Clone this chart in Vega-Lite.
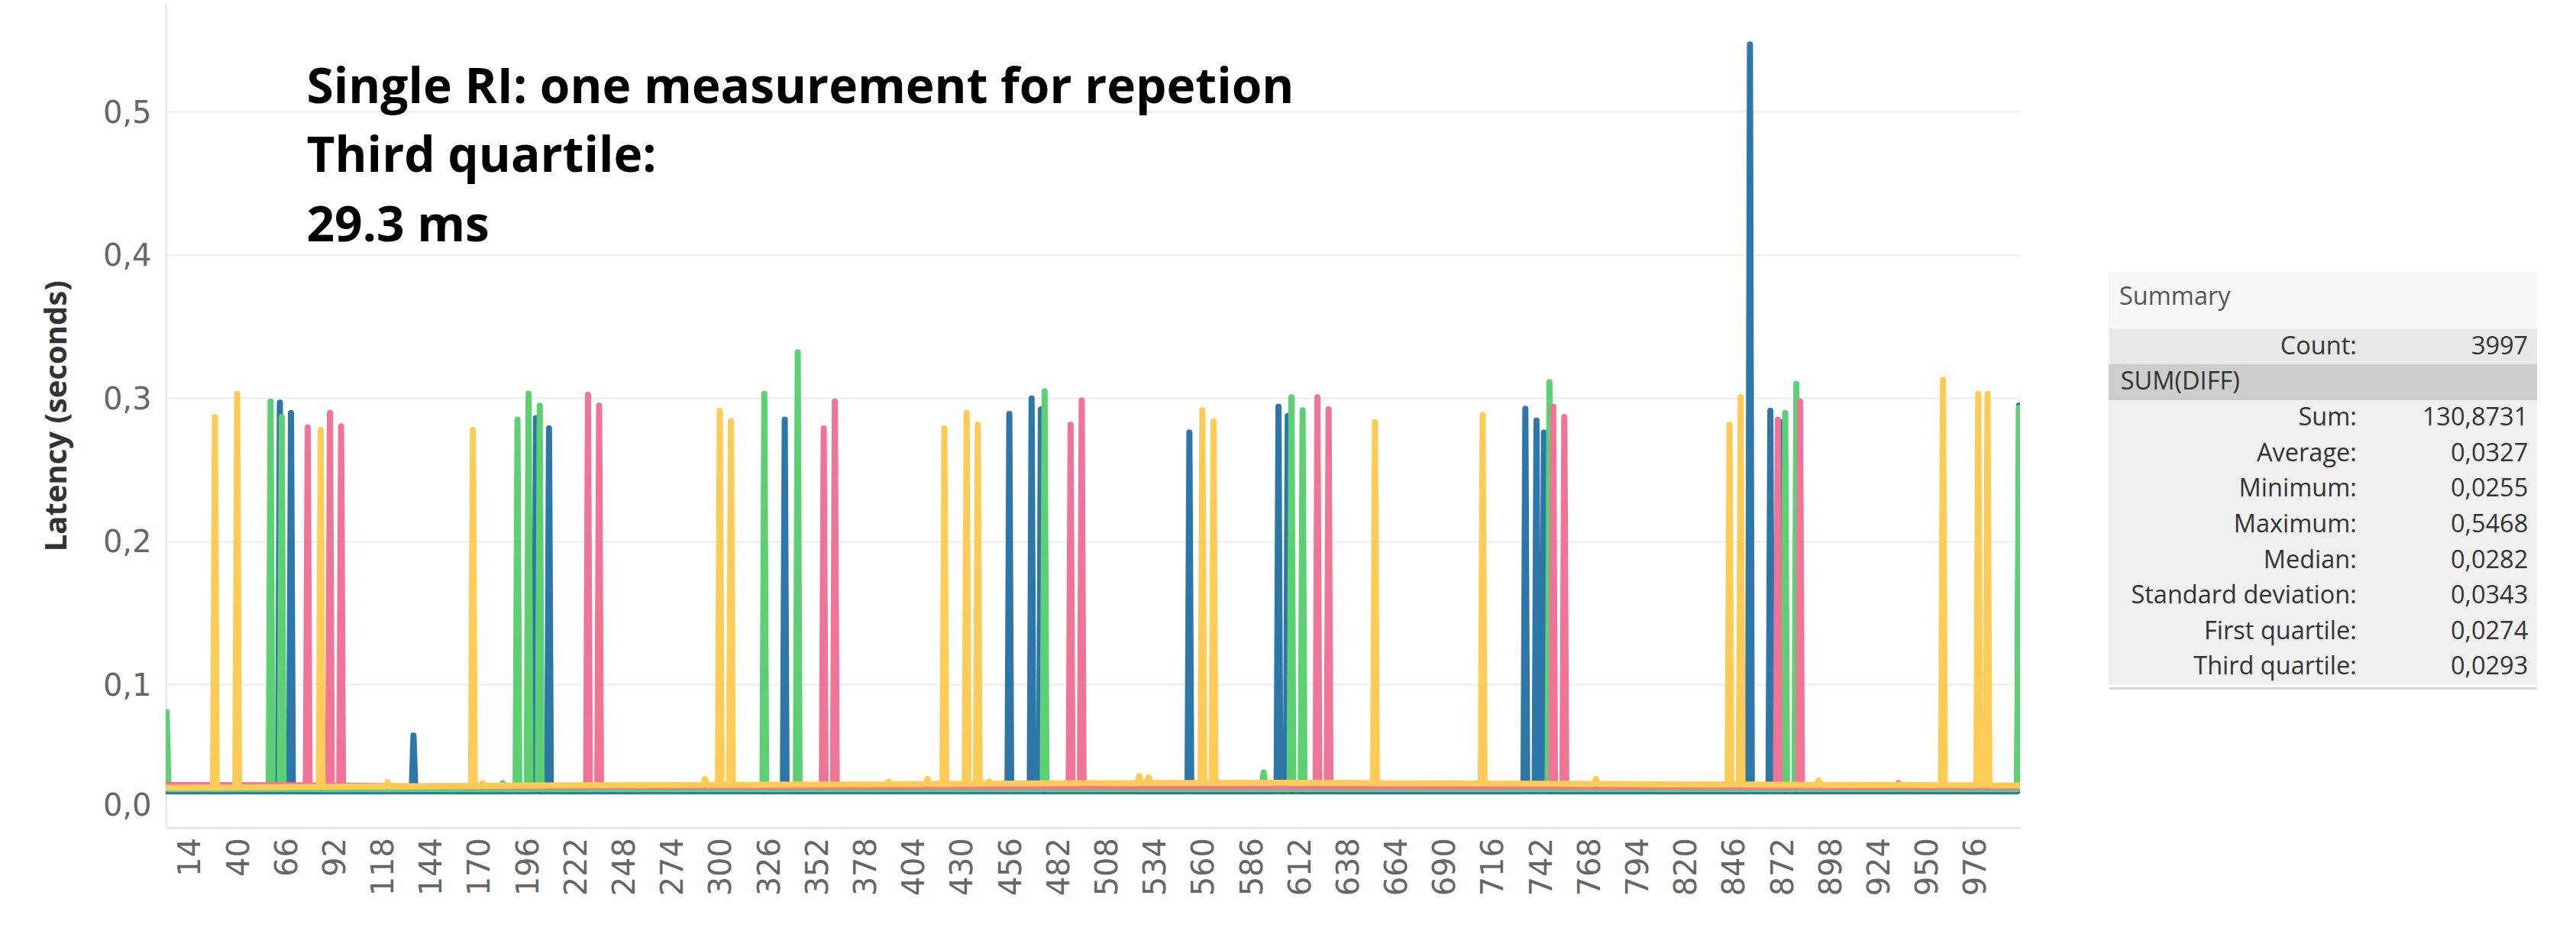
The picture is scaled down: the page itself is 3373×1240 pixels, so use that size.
{
  "$schema": "https://vega.github.io/schema/vega-lite/v6.json",
  "padding": {"left": 54, "top": 5, "right": 0, "bottom": 0},
  "background": "white",
  "config": {"view": {"stroke": null}},
  "spacing": 114,
  "hconcat": [
    {
      "width": 2428,
      "height": 1078.5,
      "layer": [
        {
          "data": {"values": [
            {"s":"A","k":1,"v":0.0252},
            {"s":"A","k":61,"v":0.0252},{"s":"A","k":62,"v":0.2967},{"s":"A","k":63,"v":0.0252},
            {"s":"A","k":67,"v":0.0252},{"s":"A","k":68,"v":0.2895},{"s":"A","k":69,"v":0.0252},
            {"s":"A","k":133,"v":0.0252},{"s":"A","k":134,"v":0.0642},{"s":"A","k":135,"v":0.0252},
            {"s":"A","k":199,"v":0.0252},{"s":"A","k":200,"v":0.2859},{"s":"A","k":201,"v":0.0252},
            {"s":"A","k":206,"v":0.0252},{"s":"A","k":207,"v":0.2787},{"s":"A","k":208,"v":0.0252},
            {"s":"A","k":333,"v":0.0252},{"s":"A","k":334,"v":0.2848},{"s":"A","k":335,"v":0.0252},
            {"s":"A","k":454,"v":0.0252},{"s":"A","k":455,"v":0.2888},{"s":"A","k":456,"v":0.0252},
            {"s":"A","k":466,"v":0.0252},{"s":"A","k":467,"v":0.2996},{"s":"A","k":468,"v":0.0252},
            {"s":"A","k":471,"v":0.0252},{"s":"A","k":472,"v":0.2920},{"s":"A","k":473,"v":0.0252},
            {"s":"A","k":551,"v":0.0252},{"s":"A","k":552,"v":0.2758},{"s":"A","k":553,"v":0.0252},
            {"s":"A","k":599,"v":0.0252},{"s":"A","k":600,"v":0.2939},{"s":"A","k":601,"v":0.0252},
            {"s":"A","k":604,"v":0.0252},{"s":"A","k":605,"v":0.2873},{"s":"A","k":606,"v":0.0252},
            {"s":"A","k":732,"v":0.0252},{"s":"A","k":733,"v":0.2924},{"s":"A","k":734,"v":0.0252},
            {"s":"A","k":738,"v":0.0252},{"s":"A","k":739,"v":0.2841},{"s":"A","k":740,"v":0.0252},
            {"s":"A","k":742,"v":0.0252},{"s":"A","k":743,"v":0.2758},{"s":"A","k":744,"v":0.0252},
            {"s":"A","k":853,"v":0.0252},{"s":"A","k":854,"v":0.5468},{"s":"A","k":855,"v":0.0252},
            {"s":"A","k":864,"v":0.0252},{"s":"A","k":865,"v":0.2910},{"s":"A","k":866,"v":0.0252},
            {"s":"A","k":870,"v":0.0252},{"s":"A","k":871,"v":0.2830},{"s":"A","k":872,"v":0.0252},
            {"s":"A","k":998,"v":0.0252},{"s":"A","k":999,"v":0.2946},

            {"s":"B","k":1,"v":0.0805},{"s":"B","k":2,"v":0.0268},
            {"s":"B","k":56,"v":0.0268},{"s":"B","k":57,"v":0.2975},{"s":"B","k":58,"v":0.0268},
            {"s":"B","k":62,"v":0.0268},{"s":"B","k":63,"v":0.2866},{"s":"B","k":64,"v":0.0268},
            {"s":"B","k":181,"v":0.0268},{"s":"B","k":182,"v":0.0310},{"s":"B","k":183,"v":0.0268},
            {"s":"B","k":189,"v":0.0268},{"s":"B","k":190,"v":0.2848},{"s":"B","k":191,"v":0.0268},
            {"s":"B","k":195,"v":0.0268},{"s":"B","k":196,"v":0.3029},{"s":"B","k":197,"v":0.0268},
            {"s":"B","k":201,"v":0.0268},{"s":"B","k":202,"v":0.2946},{"s":"B","k":203,"v":0.0268},
            {"s":"B","k":322,"v":0.0268},{"s":"B","k":323,"v":0.3029},{"s":"B","k":324,"v":0.0268},
            {"s":"B","k":340,"v":0.0268},{"s":"B","k":341,"v":0.3318},{"s":"B","k":342,"v":0.0268},
            {"s":"B","k":473,"v":0.0268},{"s":"B","k":474,"v":0.3047},{"s":"B","k":475,"v":0.0268},
            {"s":"B","k":591,"v":0.0268},{"s":"B","k":592,"v":0.0385},{"s":"B","k":593,"v":0.0268},
            {"s":"B","k":606,"v":0.0268},{"s":"B","k":607,"v":0.3004},{"s":"B","k":608,"v":0.0268},
            {"s":"B","k":612,"v":0.0268},{"s":"B","k":613,"v":0.2913},{"s":"B","k":614,"v":0.0268},
            {"s":"B","k":745,"v":0.0268},{"s":"B","k":746,"v":0.3109},{"s":"B","k":747,"v":0.0268},
            {"s":"B","k":872,"v":0.0268},{"s":"B","k":873,"v":0.2895},{"s":"B","k":874,"v":0.0268},
            {"s":"B","k":878,"v":0.0268},{"s":"B","k":879,"v":0.3098},{"s":"B","k":880,"v":0.0268},
            {"s":"B","k":998,"v":0.0268},{"s":"B","k":999,"v":0.2930},

            {"s":"C","k":1,"v":0.0297},{"s":"C","k":70,"v":0.0295},
            {"s":"C","k":76,"v":0.0294},{"s":"C","k":77,"v":0.2794},{"s":"C","k":78,"v":0.0294},
            {"s":"C","k":88,"v":0.0293},{"s":"C","k":89,"v":0.2895},{"s":"C","k":90,"v":0.0293},
            {"s":"C","k":94,"v":0.0292},{"s":"C","k":95,"v":0.2801},{"s":"C","k":96,"v":0.0292},
            {"s":"C","k":130,"v":0.0287},
            {"s":"C","k":227,"v":0.0286},{"s":"C","k":228,"v":0.3022},{"s":"C","k":229,"v":0.0286},
            {"s":"C","k":233,"v":0.0286},{"s":"C","k":234,"v":0.2946},{"s":"C","k":235,"v":0.0286},
            {"s":"C","k":354,"v":0.0285},{"s":"C","k":355,"v":0.2787},{"s":"C","k":356,"v":0.0285},
            {"s":"C","k":360,"v":0.0285},{"s":"C","k":361,"v":0.2975},{"s":"C","k":362,"v":0.0285},
            {"s":"C","k":487,"v":0.0285},{"s":"C","k":488,"v":0.2812},{"s":"C","k":489,"v":0.0285},
            {"s":"C","k":493,"v":0.0285},{"s":"C","k":494,"v":0.2982},{"s":"C","k":495,"v":0.0285},
            {"s":"C","k":620,"v":0.0284},{"s":"C","k":621,"v":0.3004},{"s":"C","k":622,"v":0.0284},
            {"s":"C","k":626,"v":0.0284},{"s":"C","k":627,"v":0.2920},{"s":"C","k":628,"v":0.0284},
            {"s":"C","k":747,"v":0.0284},{"s":"C","k":748,"v":0.2939},{"s":"C","k":749,"v":0.0284},
            {"s":"C","k":753,"v":0.0284},{"s":"C","k":754,"v":0.2866},{"s":"C","k":755,"v":0.0284},
            {"s":"C","k":868,"v":0.0283},{"s":"C","k":869,"v":0.2848},{"s":"C","k":870,"v":0.0283},
            {"s":"C","k":880,"v":0.0283},{"s":"C","k":881,"v":0.2975},{"s":"C","k":882,"v":0.0283},
            {"s":"C","k":933,"v":0.0283},{"s":"C","k":934,"v":0.0310},{"s":"C","k":935,"v":0.0283},
            {"s":"C","k":999,"v":0.0283},

            {"s":"D","k":1,"v":0.0277},
            {"s":"D","k":26,"v":0.0279},{"s":"D","k":27,"v":0.2866},{"s":"D","k":28,"v":0.0279},
            {"s":"D","k":38,"v":0.0280},{"s":"D","k":39,"v":0.3029},{"s":"D","k":40,"v":0.0280},
            {"s":"D","k":83,"v":0.0284},{"s":"D","k":84,"v":0.2776},{"s":"D","k":85,"v":0.0284},
            {"s":"D","k":100,"v":0.0285},
            {"s":"D","k":119,"v":0.0287},{"s":"D","k":120,"v":0.0316},{"s":"D","k":121,"v":0.0287},
            {"s":"D","k":165,"v":0.0290},{"s":"D","k":166,"v":0.2776},{"s":"D","k":167,"v":0.0290},
            {"s":"D","k":170,"v":0.0290},{"s":"D","k":171,"v":0.0310},{"s":"D","k":172,"v":0.0291},
            {"s":"D","k":200,"v":0.0293},
            {"s":"D","k":290,"v":0.0298},{"s":"D","k":291,"v":0.0340},{"s":"D","k":292,"v":0.0298},
            {"s":"D","k":298,"v":0.0298},{"s":"D","k":299,"v":0.2910},{"s":"D","k":300,"v":0.0298},
            {"s":"D","k":304,"v":0.0298},{"s":"D","k":305,"v":0.2837},{"s":"D","k":306,"v":0.0298},
            {"s":"D","k":389,"v":0.0302},{"s":"D","k":390,"v":0.0320},{"s":"D","k":391,"v":0.0302},
            {"s":"D","k":400,"v":0.0303},
            {"s":"D","k":410,"v":0.0304},{"s":"D","k":411,"v":0.0340},{"s":"D","k":412,"v":0.0304},
            {"s":"D","k":419,"v":0.0304},{"s":"D","k":420,"v":0.2787},{"s":"D","k":421,"v":0.0304},
            {"s":"D","k":431,"v":0.0305},{"s":"D","k":432,"v":0.2895},{"s":"D","k":433,"v":0.0305},
            {"s":"D","k":437,"v":0.0305},{"s":"D","k":438,"v":0.2812},{"s":"D","k":439,"v":0.0305},
            {"s":"D","k":443,"v":0.0306},{"s":"D","k":444,"v":0.0320},{"s":"D","k":445,"v":0.0306},
            {"s":"D","k":500,"v":0.0310},
            {"s":"D","k":524,"v":0.0310},{"s":"D","k":525,"v":0.0360},{"s":"D","k":526,"v":0.0310},
            {"s":"D","k":529,"v":0.0311},{"s":"D","k":530,"v":0.0350},{"s":"D","k":531,"v":0.0311},
            {"s":"D","k":558,"v":0.0311},{"s":"D","k":559,"v":0.2913},{"s":"D","k":560,"v":0.0311},
            {"s":"D","k":564,"v":0.0311},{"s":"D","k":565,"v":0.2837},{"s":"D","k":566,"v":0.0311},
            {"s":"D","k":600,"v":0.0312},
            {"s":"D","k":651,"v":0.0310},{"s":"D","k":652,"v":0.2830},{"s":"D","k":653,"v":0.0310},
            {"s":"D","k":700,"v":0.0307},
            {"s":"D","k":709,"v":0.0307},{"s":"D","k":710,"v":0.2880},{"s":"D","k":711,"v":0.0307},
            {"s":"D","k":770,"v":0.0304},{"s":"D","k":771,"v":0.0340},{"s":"D","k":772,"v":0.0304},
            {"s":"D","k":800,"v":0.0302},
            {"s":"D","k":842,"v":0.0300},{"s":"D","k":843,"v":0.2812},{"s":"D","k":844,"v":0.0300},
            {"s":"D","k":848,"v":0.0300},{"s":"D","k":849,"v":0.3004},{"s":"D","k":850,"v":0.0300},
            {"s":"D","k":890,"v":0.0298},{"s":"D","k":891,"v":0.0330},{"s":"D","k":892,"v":0.0298},
            {"s":"D","k":900,"v":0.0298},
            {"s":"D","k":957,"v":0.0296},{"s":"D","k":958,"v":0.3127},{"s":"D","k":959,"v":0.0296},
            {"s":"D","k":976,"v":0.0295},{"s":"D","k":977,"v":0.3029},{"s":"D","k":978,"v":0.0295},
            {"s":"D","k":981,"v":0.0295},{"s":"D","k":982,"v":0.3029},{"s":"D","k":983,"v":0.0295},
            {"s":"D","k":999,"v":0.0293}
          ]},
          "mark": {"type": "line", "strokeWidth": 8, "strokeCap": "round", "strokeJoin": "round", "clip": true},
          "encoding": {
            "x": {
              "field": "k", "type": "quantitative",
              "scale": {"domain": [0.5, 999.5], "nice": false, "zero": false},
              "axis": {
                "title": null,
                "values": [14,40,66,92,118,144,170,196,222,248,274,300,326,352,378,404,430,456,482,508,534,560,586,612,638,664,690,716,742,768,794,820,846,872,898,924,950,976],
                "labelAngle": -90,
                "labelFont": "DejaVu Sans",
                "labelFontSize": 40,
                "labelColor": "#666666",
                "labelPadding": 13,
                "labelOverlap": false,
                "labelFlush": false,
                "ticks": false,
                "grid": false,
                "domain": true,
                "domainColor": "#e4e4e4",
                "domainWidth": 2
              }
            },
            "y": {
              "field": "v", "type": "quantitative",
              "scale": {"domain": [0, 0.5752], "nice": false, "zero": false},
              "axis": {
                "title": "Latency (seconds)",
                "titleFont": "Open Sans",
                "titleFontWeight": "bold",
                "titleFontSize": 40,
                "titleColor": "#333333",
                "titlePadding": 40,
                "values": [0, 0.1, 0.2, 0.3, 0.4, 0.5],
                "labelExpr": "replace(format(datum.value, '.1f'), '.', ',')",
                "labelFont": "DejaVu Sans",
                "labelFontSize": 40,
                "labelColor": "#666666",
                "labelPadding": 19,
                "labelFlush": false,
                "labelOffset": {"condition": {"test": "datum.value === 0", "value": -28}, "value": 2},
                "ticks": false,
                "grid": true,
                "gridColor": "#ececec",
                "gridWidth": 2,
                "domain": true,
                "domainColor": "#e4e4e4",
                "domainWidth": 2
              }
            },
            "color": {
              "field": "s", "type": "nominal", "legend": null,
              "scale": {"domain": ["A","B","C","D"], "range": ["#2c77a8","#5dd073","#ef7498","#fecb57"]}
            }
          }
        },
        {
          "data": {"values": [{"t": ["Single RI: one measurement for repetion", "Third quartile:", "29.3 ms"]}]},
          "mark": {"type": "text", "font": "Open Sans", "fontWeight": "bold", "fontSize": 64, "color": "#000000", "align": "left", "baseline": "alphabetic", "lineHeight": 90.6},
          "encoding": {
            "x": {"datum": 76.4, "type": "quantitative"},
            "y": {"datum": 0.506, "type": "quantitative"},
            "text": {"field": "t"}
          }
        }
      ]
    },
    {
      "width": 561,
      "height": 1078.5,
      "layer": [
        {
          "data": {"values": [{"part": "box"}]},
          "mark": {"type": "rect", "color": "#f0f0f0"},
          "encoding": {
            "x": {"datum": 0, "type": "quantitative", "scale": {"domain": [0, 1], "nice": false, "zero": false}, "axis": null},
            "x2": {"datum": 1},
            "y": {"datum": -1.08, "type": "quantitative", "scale": {"domain": [-8.52, 14.40], "reverse": true, "nice": false, "zero": false}, "axis": null},
            "y2": {"datum": 10.5}
          }
        },
        {
          "data": {"values": [{"part": "header"}]},
          "mark": {"type": "rect", "color": "#f7f7f7"},
          "encoding": {
            "x": {"datum": 0, "type": "quantitative"},
            "x2": {"datum": 1},
            "y": {"datum": -1.08, "type": "quantitative"},
            "y2": {"datum": 0.5}
          }
        },
        {
          "data": {"values": [{"part": "count", "row": 1}]},
          "mark": {"type": "bar", "orient": "horizontal", "size": 47.06, "color": "#e8e8e8"},
          "encoding": {
            "x": {"datum": 0, "type": "quantitative"},
            "x2": {"datum": 1},
            "y": {"field": "row", "type": "quantitative"}
          }
        },
        {
          "data": {"values": [{"part": "group", "row": 2}]},
          "mark": {"type": "bar", "orient": "horizontal", "size": 47.06, "color": "#cdcdcd"},
          "encoding": {
            "x": {"datum": 0, "type": "quantitative"},
            "x2": {"datum": 1},
            "y": {"field": "row", "type": "quantitative"}
          }
        },
        {
          "data": {"values": [{"part": "bottom"}]},
          "mark": {"type": "rule", "color": "#d6d6d6", "strokeWidth": 3},
          "encoding": {
            "x": {"datum": 0, "type": "quantitative"},
            "x2": {"datum": 1},
            "y": {"datum": 10.6, "type": "quantitative"}
          }
        },
        {
          "data": {"values": [{"t": "Summary", "row": -0.38}]},
          "mark": {"type": "text", "font": "Open Sans", "fontSize": 32.5, "color": "#555555", "align": "left", "baseline": "middle"},
          "encoding": {
            "x": {"datum": 0.025, "type": "quantitative"},
            "y": {"field": "row", "type": "quantitative"},
            "text": {"field": "t"}
          }
        },
        {
          "data": {"values": [{"t": "SUM(DIFF)", "row": 2}]},
          "mark": {"type": "text", "font": "Open Sans", "fontSize": 32.5, "color": "#333333", "align": "left", "baseline": "middle"},
          "encoding": {
            "x": {"datum": 0.028, "type": "quantitative"},
            "y": {"field": "row", "type": "quantitative"},
            "text": {"field": "t"}
          }
        },
        {
          "data": {"values": [
            {"label": "Count:", "value": "3997", "row": 1},
            {"label": "Sum:", "value": "130,8731", "row": 3},
            {"label": "Average:", "value": "0,0327", "row": 4},
            {"label": "Minimum:", "value": "0,0255", "row": 5},
            {"label": "Maximum:", "value": "0,5468", "row": 6},
            {"label": "Median:", "value": "0,0282", "row": 7},
            {"label": "Standard deviation:", "value": "0,0343", "row": 8},
            {"label": "First quartile:", "value": "0,0274", "row": 9},
            {"label": "Third quartile:", "value": "0,0293", "row": 10}
          ]},
          "layer": [
            {
              "mark": {"type": "text", "font": "Open Sans", "fontSize": 32.5, "color": "#333333", "align": "right", "baseline": "middle"},
              "encoding": {
                "x": {"datum": 0.579, "type": "quantitative"},
                "y": {"field": "row", "type": "quantitative"},
                "text": {"field": "label"}
              }
            },
            {
              "mark": {"type": "text", "font": "Open Sans", "fontSize": 32.5, "color": "#333333", "align": "right", "baseline": "middle"},
              "encoding": {
                "x": {"datum": 0.979, "type": "quantitative"},
                "y": {"field": "row", "type": "quantitative"},
                "text": {"field": "value"}
              }
            }
          ]
        }
      ]
    }
  ]
}
